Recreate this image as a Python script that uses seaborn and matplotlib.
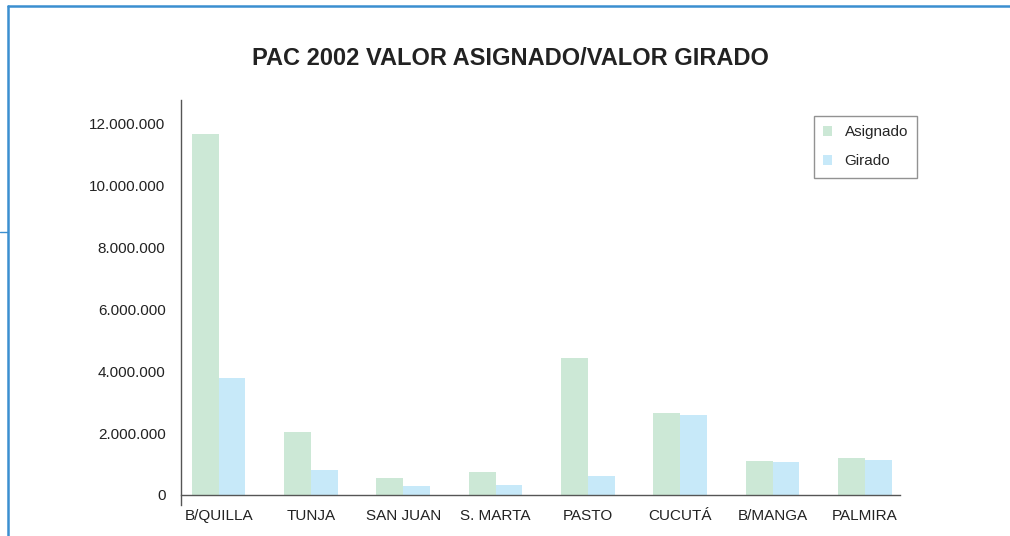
import matplotlib
matplotlib.use('Agg')
import matplotlib.pyplot as plt
import matplotlib.ticker as mticker
import seaborn as sns
import pandas as pd

# datos
ciudades = ['B/QUILLA', 'TUNJA', 'SAN JUAN', 'S. MARTA', 'PASTO', 'CUCUTÁ', 'B/MANGA', 'PALMIRA']
asignado = [11650000, 2030000, 550000, 740000, 4420000, 2650000, 1100000, 1190000]
girado = [3770000, 800000, 300000, 320000, 610000, 2580000, 1060000, 1130000]
series = ['Asignado', 'Girado']
colores = ['#cce8d6', '#c7e9f9']

df = pd.DataFrame({
    'ciudad': ciudades * 2,
    'valor': asignado + girado,
    'serie': [series[0]] * len(ciudades) + [series[1]] * len(ciudades),
})

sns.set_style('white')
plt.rcParams['font.family'] = ['Liberation Sans Narrow', 'Liberation Sans', 'DejaVu Sans']

fig = plt.figure(figsize=(10.1, 5.36), dpi=100)
ax = fig.add_axes([0.179, 0.058, 0.712, 0.755])

sns.barplot(data=df, x='ciudad', y='valor', hue='serie', palette=colores,
            width=0.58, saturation=1, linewidth=0, ax=ax, legend=True)

ax.set_xlim(-0.41, 7.38)
ax.set_ylim(-320000, 12740000)
ax.set_yticks(range(0, 12000001, 2000000))
ax.yaxis.set_major_formatter(mticker.FuncFormatter(lambda v, p: f'{int(v):,}'.replace(',', '.')))
ax.set_xlabel('')
ax.set_ylabel('')

for s in ['top', 'right']:
    ax.spines[s].set_visible(False)
ax.spines['bottom'].set_position(('data', 0))
ax.spines['left'].set_color('#555555')
ax.spines['bottom'].set_color('#555555')
ax.spines['left'].set_linewidth(1)
ax.spines['bottom'].set_linewidth(1)
ax.tick_params(axis='y', length=8, width=1, color='#555555', labelsize=11, labelcolor='#222222', pad=3)
ax.tick_params(axis='x', length=0, labelsize=11, labelcolor='#222222', pad=10)

leg = ax.legend(loc='upper left', bbox_to_anchor=(0.87, 0.98), frameon=True, fancybox=False,
                fontsize=11, handlelength=0.6, handleheight=0.6, handletextpad=0.8,
                borderpad=0.6, labelspacing=1.0, edgecolor='#777777')
leg.get_frame().set_linewidth(1)

fig.text(0.505, 0.89, 'PAC 2002 VALOR ASIGNADO/VALOR GIRADO', ha='center', va='center',
         fontsize=17, fontweight='bold', color='#222222')

# marco azul
azul = '#3b8fd0'
fig.add_artist(plt.Line2D([8 / 1010, 1], [1 - 6 / 536, 1 - 6 / 536], color=azul, lw=1.8, transform=fig.transFigure))
fig.add_artist(plt.Line2D([8 / 1010, 8 / 1010], [0, 1 - 6 / 536], color=azul, lw=1.8, transform=fig.transFigure))
fig.add_artist(plt.Line2D([0, 8 / 1010], [1 - 232 / 536, 1 - 232 / 536], color=azul, lw=1, transform=fig.transFigure))

fig.savefig('out.png', dpi=100)
